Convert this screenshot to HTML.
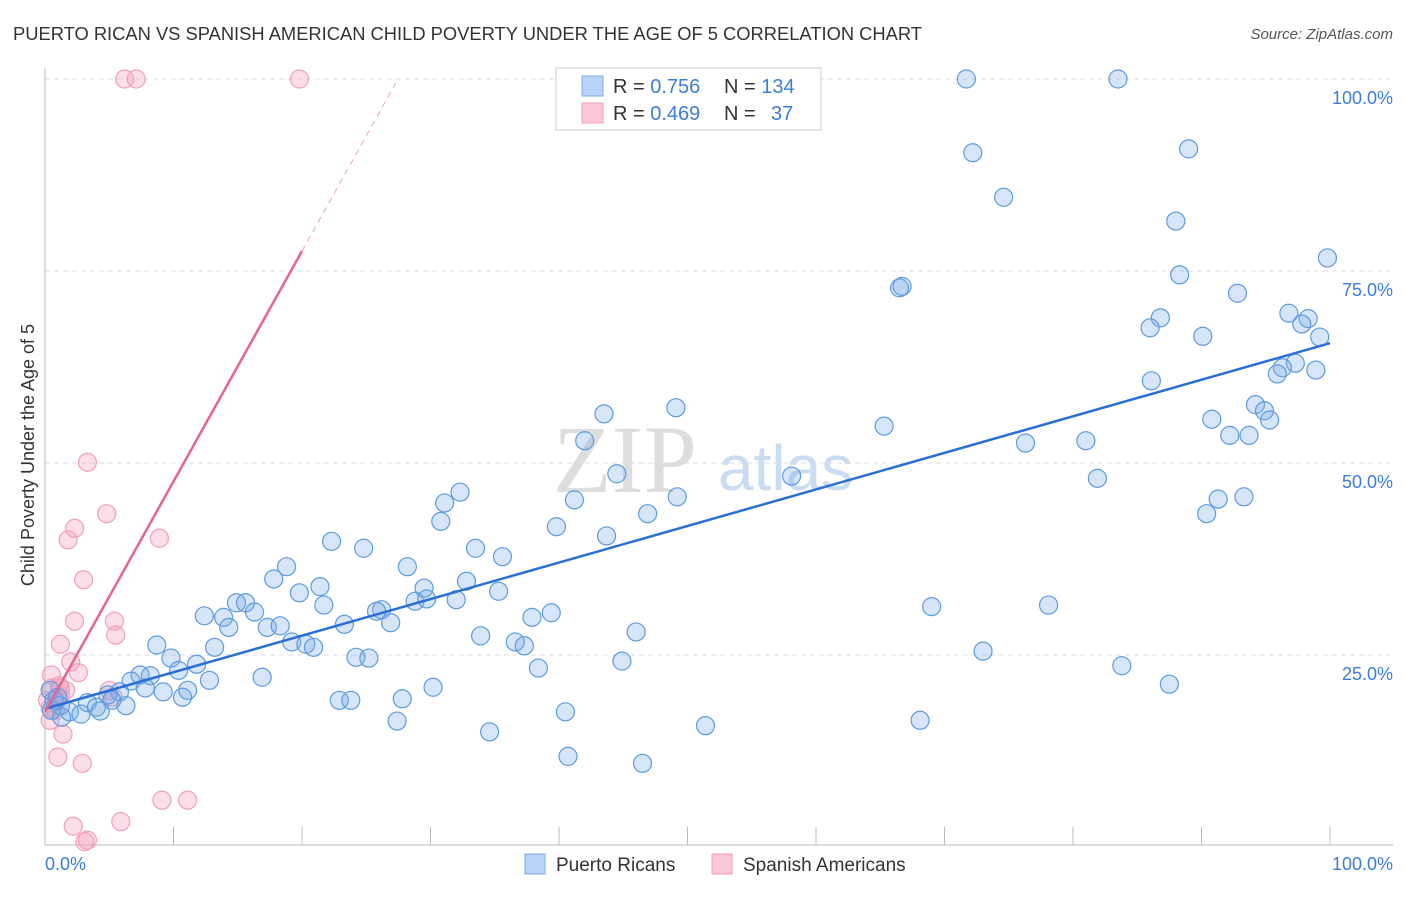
<!DOCTYPE html>
<html><head><meta charset="utf-8"><style>
body{margin:0;background:#fff;font-family:"Liberation Sans",sans-serif}
</style></head><body>
<svg id="chart" width="1406" height="892" xmlns="http://www.w3.org/2000/svg" font-family="Liberation Sans, sans-serif">
<text x="13" y="40" font-size="18" fill="#333" textLength="909" lengthAdjust="spacingAndGlyphs">PUERTO RICAN VS SPANISH AMERICAN CHILD POVERTY UNDER THE AGE OF 5 CORRELATION CHART</text>
<text x="1393" y="39" font-size="15" fill="#555" font-style="italic" text-anchor="end">Source: ZipAtlas.com</text>
<text x="553" y="492" font-size="96" fill="#ddd" font-family="Liberation Serif, serif">ZIP</text>
<text x="718" y="490" font-size="64" fill="#c9dcf2">atlas</text>
<text transform="translate(34,455) rotate(-90)" font-size="18" fill="#333" text-anchor="middle">Child Poverty Under the Age of 5</text>
<g id="grid"></g><g id="pts"></g><g id="lines"></g>
<g>
<rect x="556" y="68" width="265" height="62" fill="#fff" stroke="#ccc"/>
<rect x="582" y="76" width="21" height="20" fill="#b8d3f5" stroke="#7aaee8"/>
<rect x="582" y="103" width="21" height="20" fill="#fcc7d6" stroke="#f0a0ba"/>
<text x="613" y="93" font-size="20" fill="#333">R = <tspan fill="#3b7dd8">0.756</tspan><tspan x="724">N = </tspan><tspan fill="#3b7dd8">134</tspan></text>
<text x="613" y="120" font-size="20" fill="#333">R = <tspan fill="#3b7dd8">0.469</tspan><tspan x="724">N = </tspan><tspan fill="#3b7dd8" x="771">37</tspan></text>
</g>
<g>
<rect x="525" y="854" width="20" height="20" fill="#b8d3f5" stroke="#7aaee8"/>
<text x="556" y="871" font-size="19" fill="#333">Puerto Ricans</text>
<rect x="712" y="854" width="20" height="20" fill="#fcc7d6" stroke="#f0a0ba"/>
<text x="743" y="871" font-size="19" fill="#333">Spanish Americans</text>
</g>
<text x="45" y="870" font-size="18" fill="#3b7dd8">0.0%</text>
<text x="1393" y="870" font-size="18" fill="#3b7dd8" text-anchor="end">100.0%</text>
</svg>
<script>
const yTicks=[25,50,75,100];
const yTickLabels=["25.0%","50.0%","75.0%","100.0%"];
const xTicks=[0,10,20,30,40,50,60,70,80,90,100];
const blueX=[71.7,83.5,72.2,89.0,74.6,88.0,99.8,66.5,66.7,88.3,92.8,96.8,98.3,97.8,86.8,86.0,90.1,99.2,97.3,98.9,96.3,95.9,86.1,49.1,43.5,42.0,65.3,90.8,94.2,94.9,95.3,92.2,93.7,76.3,81.0,44.5,58.1,81.9,32.3,31.1,41.2,49.2,91.3,93.3,90.4,30.8,46.9,39.8,43.7,22.3,33.5,24.8,35.6,18.8,28.2,17.8,32.8,21.4,19.8,29.5,35.3,14.9,28.8,29.7,32.0,15.6,21.7,26.2,25.8,16.3,12.4,13.9,69.0,78.1,37.9,39.4,14.3,17.3,18.3,23.3,26.9,46.0,33.9,19.2,20.3,20.9,36.6,37.3,8.7,13.2,73.0,9.8,24.2,25.2,44.9,11.8,10.4,38.4,83.8,7.4,8.2,6.7,16.9,12.8,87.5,7.8,9.2,5.8,11.1,10.7,30.2,4.9,27.8,22.9,23.8,5.2,3.3,6.3,4.0,1.2,1.9,2.8,4.3,40.5,68.1,27.4,51.4,34.6,40.7,46.5,0.7,0.5,1.3,0.4,1.0];
const blueY=[100,100,90.4,90.9,84.6,81.5,76.7,72.8,73.0,74.5,72.1,69.5,68.8,68.1,68.9,67.6,66.5,66.4,63.0,62.1,62.4,61.6,60.7,57.2,56.4,52.9,54.8,55.7,57.6,56.8,55.6,53.6,53.6,52.6,52.9,48.6,48.3,48.0,46.2,44.8,45.2,45.6,45.3,45.6,43.4,42.4,43.4,41.7,40.5,39.8,38.9,38.9,37.8,36.5,36.5,34.9,34.6,33.9,33.1,33.7,33.3,31.8,32.0,32.3,32.2,31.8,31.5,30.9,30.7,30.6,30.1,29.9,31.3,31.5,29.9,30.5,28.6,28.6,28.8,29.0,29.2,28.0,27.5,26.7,26.4,26.0,26.7,26.2,26.3,26.0,25.5,24.6,24.7,24.6,24.2,23.8,23.0,23.3,23.6,22.4,22.3,21.6,22.1,21.7,21.2,20.7,20.2,20.2,20.4,19.5,20.8,19.8,19.3,19.1,19.1,19.1,18.8,18.4,18.2,18.4,17.6,17.3,17.7,17.6,16.5,16.4,15.8,15.0,11.8,10.9,19.1,17.8,16.9,20.4,19.5];
const pinkX=[6.2,7.1,19.8,3.3,4.8,2.3,1.8,8.9,3.0,2.3,5.4,5.5,1.2,2.0,2.6,0.5,1.1,1.6,5.0,0.5,0.9,0.8,0.4,5.3,1.4,2.9,1.0,9.1,11.1,2.2,5.9,3.3,3.1,1.2,1.2,0.2,0.4];
const pinkY=[100,100,100,50.1,43.4,41.5,40.0,40.2,34.8,29.4,29.4,27.6,26.4,24.1,22.7,22.4,21.0,20.4,20.4,20.7,19.1,17.8,18.1,19.5,14.7,10.9,11.7,6.1,6.1,2.7,3.3,0.9,0.7,19.7,20.7,19.1,16.5];
const blueTrend=[18.0,65.6]; // y at x=0, y at x=100
const pinkTrend=[17.6,3.0]; // intercept, slope
const NS="http://www.w3.org/2000/svg";
const X=v=>45+12.85*v, Y=v=>847-7.68*v;
function mk(t,a,p){const e=document.createElementNS(NS,t);for(const k in a)e.setAttribute(k,a[k]);p.appendChild(e);return e;}
const grid=document.getElementById('grid'),pts=document.getElementById('pts'),lines=document.getElementById('lines');
yTicks.forEach((t,i)=>{
 const l=mk('line',{x1:45,x2:1393,y1:Y(t),y2:Y(t),stroke:'#ddd','stroke-dasharray':'5,4'},grid);
 
 
 const tx=mk('text',{x:1393,y:Y(t)+25,'font-size':18,fill:'#3b7dd8','text-anchor':'end'},grid);
 tx.textContent=yTickLabels[i];
 
 
});
const ax=mk('line',{x1:45,x2:45,y1:68,y2:845,stroke:'#bbb'},grid);


const bx=mk('line',{x1:45,x2:1393,y1:845,y2:845,stroke:'#bbb'},grid);


xTicks.forEach(t=>{
 const l=mk('line',{x1:X(t),x2:X(t),y1:827,y2:845,stroke:'#bbb'},grid);
 
 
});
pinkX.forEach((v,i)=>{
 const c=mk('circle',{cx:X(v),cy:Y(pinkY[i]),r:9,fill:'rgba(244,160,188,0.35)',stroke:'#f0a0ba','stroke-width':1.2},pts);
 
 
});
blueX.forEach((v,i)=>{
 const c=mk('circle',{cx:X(v),cy:Y(blueY[i]),r:9,fill:'rgba(120,170,230,0.3)',stroke:'#5d9be0','stroke-width':1.2},pts);
 
 
});
const bl=mk('line',{x1:X(0),y1:Y(blueTrend[0]),x2:X(100),y2:Y(blueTrend[1]),stroke:'#2a6fd6','stroke-width':2.5},lines);


const pEnd=(100-pinkTrend[0])/pinkTrend[1];
const pl=mk('line',{x1:X(0),y1:Y(pinkTrend[0]),x2:X(20),y2:Y(pinkTrend[0]+pinkTrend[1]*20),stroke:'#e8638f','stroke-width':2.5},lines);


const pd=mk('line',{x1:X(20),y1:Y(pinkTrend[0]+pinkTrend[1]*20),x2:X(pEnd),y2:Y(100),stroke:'#f0a0ba','stroke-width':1,'stroke-dasharray':'6,5'},lines);


</script>
</body></html>
